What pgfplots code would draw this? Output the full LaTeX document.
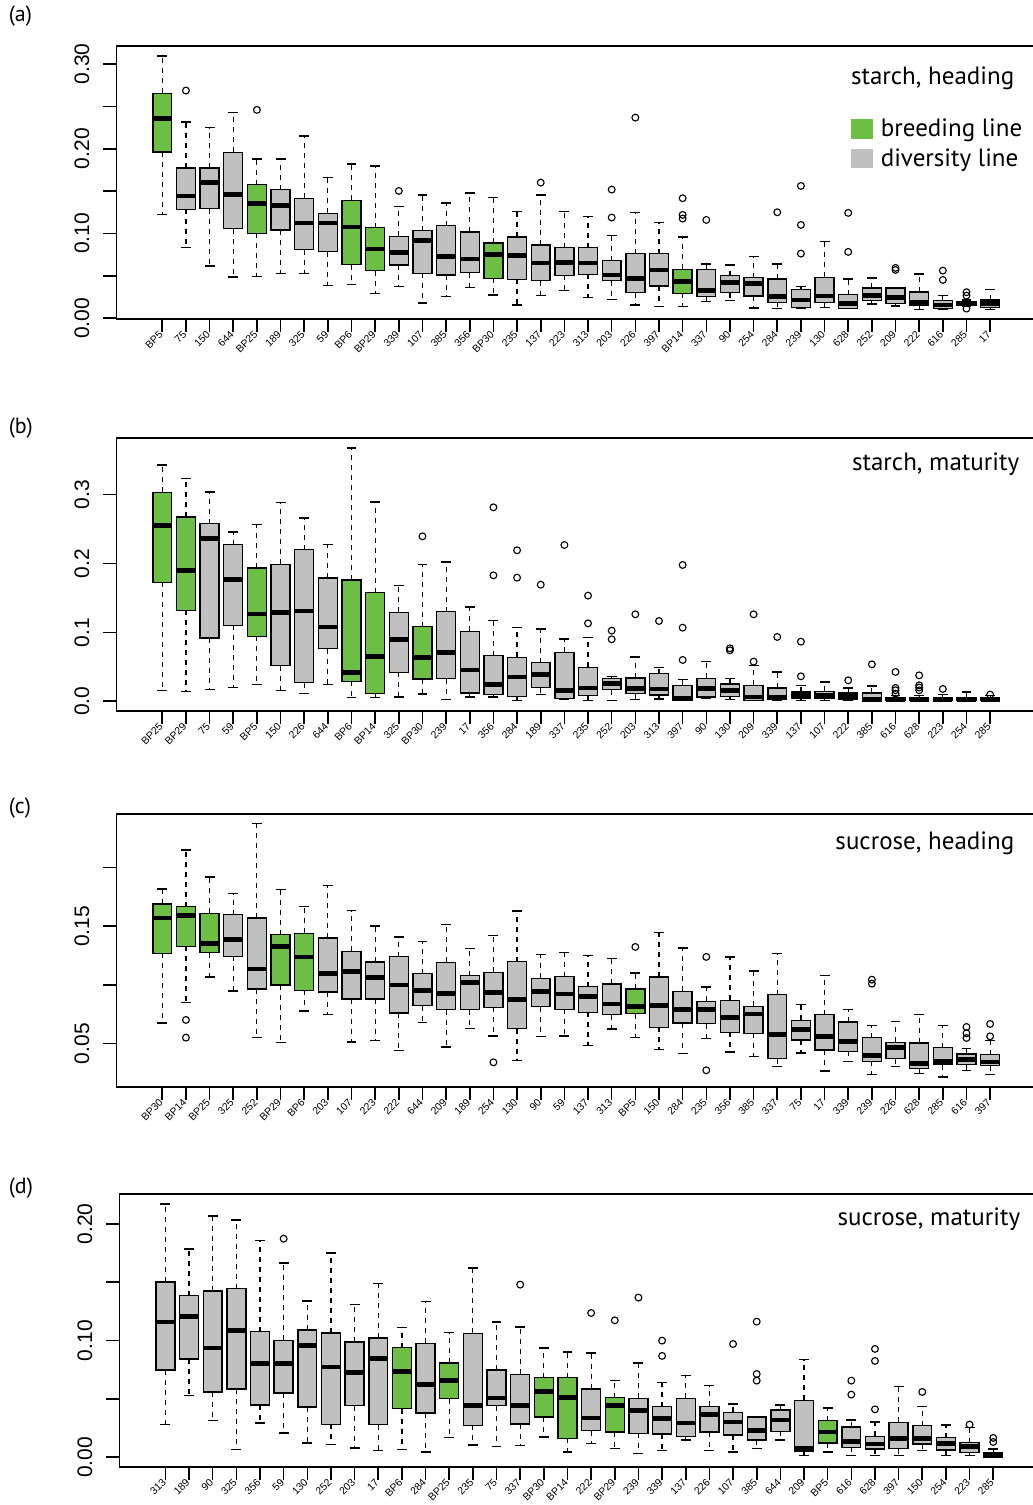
\documentclass[border=0pt]{standalone}
\usepackage{fontspec}
\setmainfont{Liberation Sans}
\newfontfamily\myr{PT Sans}
\usepackage{pgfplots}
\pgfplotsset{compat=1.18}
\usepgfplotslibrary{statistics}
\definecolor{bgr}{RGB}{109,190,69}
\definecolor{dgr}{RGB}{192,192,192}

\pgfplotsset{
  mybox/.style={
    boxplot/draw direction=y,
    boxplot/box extend=0.8,
    boxplot/whisker extend=0.42,
    boxplot/every median/.style={line width=1.15pt},
    boxplot/draw/lower whisker/.code={%
      \draw[dash pattern=on 1.25pt off 1.25pt, line width=0.3pt]
        (boxplot box cs:\pgfplotsboxplotvalue{lower quartile},0.5) --
        (boxplot box cs:\pgfplotsboxplotvalue{lower whisker},0.5);
      \draw[solid, line width=0.38pt]
        (boxplot whisker cs:\pgfplotsboxplotvalue{lower whisker},0) --
        (boxplot whisker cs:\pgfplotsboxplotvalue{lower whisker},1);
    },
    boxplot/draw/upper whisker/.code={%
      \draw[dash pattern=on 1.25pt off 1.25pt, line width=0.3pt]
        (boxplot box cs:\pgfplotsboxplotvalue{upper quartile},0.5) --
        (boxplot box cs:\pgfplotsboxplotvalue{upper whisker},0.5);
      \draw[solid, line width=0.38pt]
        (boxplot whisker cs:\pgfplotsboxplotvalue{upper whisker},0) --
        (boxplot whisker cs:\pgfplotsboxplotvalue{upper whisker},1);
    },
  },
  panel/.style={
    scale only axis, width=229.9pt, height=68.325pt,
    xmin=-0.94, xmax=37.94,
    xtick={1,...,36},
    tick align=outside, tick pos=left,
    major tick length=3.25pt,
    every tick/.style={black, line width=0.4pt},
    axis line style={line width=0.45pt},
    xticklabel style={font=\fontsize{2.6}{2.9}\selectfont, inner sep=0.4pt, xshift=0.1pt, yshift=0.3pt, rotate=45, anchor=east},
    yticklabel style={font=\fontsize{5.25}{6}\selectfont, rotate=90, anchor=south},
    /pgf/number format/assume math mode=true,
    clip=false,
    mybox,
  },
}

\newcommand{\bx}[8]{\addplot[fill=#2, draw=black, line width=0.35pt, mark=o, mark size=0.85pt, mark options={solid, line width=0.28pt, fill=none}, boxplot prepared={draw position=#1, lower whisker=#4, lower quartile=#5, median=#6, upper quartile=#7, upper whisker=#8}] coordinates {#3};}

\begin{document}
\begin{tikzpicture}
\useasboundingbox (0,0) rectangle (258pt,376.25pt);

% ---------------- (a) starch, heading
\begin{axis}[panel, at={(29.1pt,296.425pt)}, anchor=south west,
  ymin=-0.0012, ymax=0.3212,
  ytick={0,0.05,0.1,0.15,0.2,0.25,0.3},
  yticklabels={0.00,,0.10,,0.20,,0.30},
  xticklabels={BP5,75,150,644,BP25,189,325,59,BP6,BP29,339,107,385,356,BP30,235,137,223,313,203,226,397,BP14,337,90,254,284,239,130,628,252,209,222,616,285,17}]
\bx{1}{bgr}{}{0.1223}{0.1962}{0.2355}{0.2654}{0.3095}
\bx{2}{dgr}{(0,0.2686)}{0.0834}{0.1286}{0.1443}{0.1773}{0.2316}
\bx{3}{dgr}{}{0.0617}{0.1294}{0.160}{0.1773}{0.2249}
\bx{4}{dgr}{}{0.0484}{0.1058}{0.1463}{0.1958}{0.2426}
\bx{5}{bgr}{(0,0.2458)}{0.0495}{0.1003}{0.1357}{0.1577}{0.188}
\bx{6}{dgr}{}{0.0527}{0.1042}{0.1333}{0.1518}{0.188}
\bx{7}{dgr}{}{0.0527}{0.081}{0.1125}{0.1416}{0.2147}
\bx{8}{dgr}{}{0.0385}{0.0786}{0.1125}{0.1239}{0.166}
\bx{9}{bgr}{}{0.0401}{0.0633}{0.1077}{0.1392}{0.1817}
\bx{10}{bgr}{}{0.0291}{0.0562}{0.0818}{0.107}{0.1797}
\bx{11}{dgr}{(0,0.1502)}{0.0374}{0.0629}{0.0775}{0.0967}{0.1317}
\bx{12}{dgr}{}{0.0177}{0.0531}{0.0916}{0.1034}{0.1455}
\bx{13}{dgr}{}{0.0256}{0.0511}{0.0727}{0.1093}{0.1357}
\bx{14}{dgr}{}{0.0362}{0.0539}{0.07}{0.1018}{0.1479}
\bx{15}{bgr}{}{0.0275}{0.0472}{0.0755}{0.0889}{0.1424}
\bx{16}{dgr}{}{0.0157}{0.046}{0.0743}{0.0959}{0.1258}
\bx{17}{dgr}{(0,0.160)}{0.0271}{0.0444}{0.0653}{0.0865}{0.1455}
\bx{18}{dgr}{}{0.0326}{0.0507}{0.0661}{0.0834}{0.1258}
\bx{19}{dgr}{}{0.0244}{0.0519}{0.0653}{0.0834}{0.1199}
\bx{20}{dgr}{(0,0.1518) (0,0.1188)}{0.0224}{0.0444}{0.0511}{0.068}{0.0975}
\bx{21}{dgr}{(0,0.2367)}{0.0157}{0.0303}{0.0468}{0.0763}{0.1247}
\bx{22}{dgr}{}{0.0138}{0.0381}{0.057}{0.0763}{0.1129}
\bx{23}{bgr}{(0,0.1416) (0,0.1219) (0,0.1176)}{0.0138}{0.0295}{0.0436}{0.0578}{0.0956}
\bx{24}{dgr}{(0,0.116)}{0.0197}{0.0256}{0.0326}{0.0574}{0.0637}
\bx{25}{dgr}{}{0.0208}{0.0303}{0.0425}{0.0503}{0.0629}
\bx{26}{dgr}{}{0.0118}{0.0263}{0.0409}{0.048}{0.0727}
\bx{27}{dgr}{(0,0.125)}{0.0114}{0.0189}{0.0256}{0.0464}{0.0637}
\bx{28}{dgr}{(0,0.1561) (0,0.1101) (0,0.0763)}{0.0114}{0.0126}{0.0216}{0.0342}{0.0374}
\bx{29}{dgr}{}{0.0126}{0.0189}{0.0263}{0.0484}{0.0904}
\bx{30}{dgr}{(0,0.1243) (0,0.0783)}{0.0114}{0.0118}{0.0177}{0.0279}{0.046}
\bx{31}{dgr}{}{0.0169}{0.0208}{0.0271}{0.0358}{0.0472}
\bx{32}{dgr}{(0,0.0594) (0,0.057)}{0.0145}{0.0177}{0.0244}{0.0358}{0.0362}
\bx{33}{dgr}{}{0.0106}{0.0157}{0.0185}{0.0311}{0.0519}
\bx{34}{dgr}{(0,0.0562) (0,0.0452)}{0.0106}{0.0114}{0.0157}{0.0208}{0.0271}
\bx{35}{dgr}{(0,0.0307) (0,0.0267) (0,0.0114)}{0.0138}{0.0157}{0.0177}{0.0197}{0.0216}
\bx{36}{dgr}{}{0.0106}{0.013}{0.0177}{0.0216}{0.0342}
\end{axis}

% ---------------- (b) starch, maturity
\begin{axis}[panel, at={(29.1pt,198.425pt)}, anchor=south west,
  ymin=-0.0145, ymax=0.3823,
  ytick={0,0.1,0.2,0.3},
  yticklabels={0.0,0.1,0.2,0.3},
  xticklabels={BP25,BP29,75,59,BP5,150,226,644,BP6,BP14,325,BP30,239,17,356,284,189,337,235,252,203,313,397,90,130,209,339,137,107,222,385,616,628,223,254,285}]
\bx{1}{bgr}{}{0.0155}{0.1727}{0.2554}{0.3033}{0.343}
\bx{2}{bgr}{}{0.0145}{0.1321}{0.1897}{0.2675}{0.3232}
\bx{3}{dgr}{}{0.0169}{0.0919}{0.2361}{0.2579}{0.3038}
\bx{4}{dgr}{}{0.0203}{0.1103}{0.1771}{0.2274}{0.2458}
\bx{5}{bgr}{}{0.0242}{0.0943}{0.1268}{0.1935}{0.2564}
\bx{6}{dgr}{}{0.016}{0.0518}{0.1287}{0.1988}{0.2888}
\bx{7}{dgr}{}{0.0116}{0.0271}{0.1311}{0.2201}{0.2661}
\bx{8}{dgr}{}{0.0242}{0.0764}{0.1079}{0.179}{0.2279}
\bx{9}{bgr}{}{0.0053}{0.029}{0.0421}{0.1761}{0.3677}
\bx{10}{bgr}{}{0.0053}{0.0116}{0.0653}{0.1577}{0.2893}
\bx{11}{dgr}{}{0.0063}{0.0421}{0.09}{0.1292}{0.1679}
\bx{12}{bgr}{(0,0.2395)}{0.0106}{0.0324}{0.0634}{0.1084}{0.1988}
\bx{13}{dgr}{}{0.0024}{0.0329}{0.0711}{0.1301}{0.2022}
\bx{14}{dgr}{}{0.0063}{0.0121}{0.0455}{0.1016}{0.1369}
\bx{15}{dgr}{(0,0.2816) (0,0.1829)}{0.0063}{0.0102}{0.0247}{0.0663}{0.1171}
\bx{16}{dgr}{(0,0.2192) (0,0.1795)}{0.001}{0.0073}{0.0353}{0.0639}{0.1069}
\bx{17}{dgr}{(0,0.1693)}{0.0097}{0.0198}{0.0392}{0.0561}{0.105}
\bx{18}{dgr}{(0,0.2269)}{0.0034}{0.0044}{0.016}{0.0711}{0.0905}
\bx{19}{dgr}{(0,0.1534) (0,0.1132)}{0.001}{0.0087}{0.0194}{0.0493}{0.0929}
\bx{20}{dgr}{(0,0.1026) (0,0.09)}{0.001}{0.0169}{0.0256}{0.0329}{0.0358}
\bx{21}{dgr}{(0,0.1263)}{0.0024}{0.0111}{0.0184}{0.0339}{0.0643}
\bx{22}{dgr}{(0,0.1166)}{0.0034}{0.0092}{0.0179}{0.0402}{0.0489}
\bx{23}{dgr}{(0,0.1979) (0,0.1069) (0,0.06)}{0.001}{0.001}{0.0039}{0.0232}{0.0314}
\bx{24}{dgr}{}{0.0044}{0.0063}{0.0189}{0.0334}{0.0581}
\bx{25}{dgr}{(0,0.0769) (0,0.074)}{0.0024}{0.0068}{0.016}{0.0252}{0.0329}
\bx{26}{dgr}{(0,0.1263) (0,0.0576)}{0.001}{0.001}{0.0063}{0.0232}{0.0523}
\bx{27}{dgr}{(0,0.0934)}{0.001}{0.0024}{0.0063}{0.0194}{0.0426}
\bx{28}{dgr}{(0,0.0866) (0,0.0363)}{0.001}{0.0039}{0.0087}{0.0135}{0.0232}
\bx{29}{dgr}{}{0.0015}{0.0039}{0.0087}{0.0145}{0.0281}
\bx{30}{dgr}{(0,0.0305)}{0.001}{0.0024}{0.0073}{0.0121}{0.0194}
\bx{31}{dgr}{(0,0.0537)}{0}{0}{0.0024}{0.0121}{0.0223}
\bx{32}{dgr}{(0,0.0426) (0,0.0194) (0,0.016) (0,0.0111)}{0}{0.001}{0.0029}{0.0053}{0.0087}
\bx{33}{dgr}{(0,0.0377) (0,0.0232) (0,0.02) (0,0.016)}{0}{0.001}{0.0029}{0.0053}{0.0087}
\bx{34}{dgr}{(0,0.0179)}{0}{0.001}{0.0029}{0.0053}{0.0097}
\bx{35}{dgr}{}{0}{0.001}{0.0029}{0.0053}{0.0135}
\bx{36}{dgr}{(0,0.0097)}{0}{0.001}{0.0029}{0.0053}{0.0087}
\end{axis}

% ---------------- (c) sucrose, heading
\begin{axis}[panel, at={(29.1pt,104.425pt)}, anchor=south west,
  ymin=0.0128, ymax=0.2457,
  ytick={0.05,0.1,0.15,0.2},
  yticklabels={0.05,,0.15,},
  xticklabels={BP30,BP14,BP25,325,252,BP29,BP6,203,107,223,222,644,209,189,254,130,90,59,137,313,BP5,150,284,235,356,385,337,75,17,339,239,226,628,285,616,397}]
\bx{1}{bgr}{}{0.0676}{0.127}{0.1571}{0.169}{0.1818}
\bx{2}{bgr}{(0,0.0702) (0,0.0551)}{0.0852}{0.133}{0.1591}{0.1668}{0.2151}
\bx{3}{bgr}{}{0.1068}{0.1276}{0.1355}{0.1611}{0.192}
\bx{4}{dgr}{}{0.0949}{0.1244}{0.1386}{0.1599}{0.1778}
\bx{5}{dgr}{}{0.0551}{0.0966}{0.1136}{0.1571}{0.2375}
\bx{6}{bgr}{}{0.0509}{0.1}{0.133}{0.1429}{0.1815}
\bx{7}{bgr}{}{0.0776}{0.0955}{0.1239}{0.144}{0.1668}
\bx{8}{dgr}{}{0.0747}{0.094}{0.1099}{0.1401}{0.1849}
\bx{9}{dgr}{}{0.0514}{0.0881}{0.1116}{0.1287}{0.1634}
\bx{10}{dgr}{}{0.0528}{0.0881}{0.1065}{0.1196}{0.1503}
\bx{11}{dgr}{}{0.044}{0.0761}{0.1}{0.1241}{0.1409}
\bx{12}{dgr}{}{0.0682}{0.0824}{0.0955}{0.1097}{0.1369}
\bx{13}{dgr}{}{0.0472}{0.079}{0.0926}{0.1193}{0.1514}
\bx{14}{dgr}{}{0.0628}{0.079}{0.1023}{0.108}{0.131}
\bx{15}{dgr}{(0,0.0341)}{0.0565}{0.081}{0.0937}{0.1108}{0.142}
\bx{16}{dgr}{}{0.0358}{0.0628}{0.0875}{0.1199}{0.1631}
\bx{17}{dgr}{}{0.056}{0.0815}{0.0946}{0.1057}{0.1261}
\bx{18}{dgr}{}{0.0565}{0.0793}{0.0923}{0.1071}{0.1278}
\bx{19}{dgr}{}{0.0486}{0.0767}{0.0903}{0.0986}{0.125}
\bx{20}{dgr}{}{0.0625}{0.0747}{0.0838}{0.1009}{0.1227}
\bx{21}{bgr}{(0,0.1324)}{0.0554}{0.0756}{0.0818}{0.0966}{0.1102}
\bx{22}{dgr}{}{0.0449}{0.0639}{0.0824}{0.1068}{0.1446}
\bx{23}{dgr}{}{0.0415}{0.0676}{0.079}{0.0946}{0.1313}
\bx{24}{dgr}{(0,0.1239) (0,0.0273)}{0.0543}{0.067}{0.079}{0.0861}{0.0983}
\bx{25}{dgr}{}{0.0429}{0.0597}{0.0724}{0.0869}{0.1239}
\bx{26}{dgr}{}{0.0392}{0.0588}{0.0753}{0.0818}{0.1119}
\bx{27}{dgr}{}{0.0307}{0.0372}{0.0577}{0.0918}{0.1267}
\bx{28}{dgr}{}{0.0418}{0.0531}{0.0619}{0.0699}{0.0832}
\bx{29}{dgr}{}{0.0267}{0.0446}{0.0562}{0.0747}{0.1082}
\bx{30}{dgr}{}{0.0349}{0.0435}{0.052}{0.0685}{0.079}
\bx{31}{dgr}{(0,0.1045) (0,0.1011)}{0.0236}{0.0349}{0.0401}{0.0551}{0.0656}
\bx{32}{dgr}{}{0.0307}{0.0372}{0.0469}{0.0511}{0.069}
\bx{33}{dgr}{}{0.0244}{0.0287}{0.0332}{0.0506}{0.075}
\bx{34}{dgr}{}{0.0216}{0.0321}{0.0349}{0.0466}{0.0656}
\bx{35}{dgr}{(0,0.0642) (0,0.0588) (0,0.0548)}{0.0273}{0.0321}{0.0364}{0.0412}{0.0457}
\bx{36}{dgr}{(0,0.0668) (0,0.0562)}{0.0236}{0.0312}{0.0344}{0.0406}{0.0526}
\end{axis}

% ---------------- (d) sucrose, maturity
\begin{axis}[panel, at={(29.875pt,9.425pt)}, anchor=south west,
  ymin=-0.0086, ymax=0.2257,
  ytick={0,0.05,0.1,0.15,0.2},
  yticklabels={0.00,,0.10,,0.20},
  xticklabels={313,189,90,325,356,59,130,252,203,17,BP6,284,BP25,235,75,337,BP30,BP14,222,BP29,239,339,137,226,107,385,644,209,BP5,616,628,397,150,254,223,285}]
\bx{1}{dgr}{}{0.028}{0.0749}{0.116}{0.1503}{0.2171}
\bx{2}{dgr}{}{0.0529}{0.0843}{0.1209}{0.1386}{0.1786}
\bx{3}{dgr}{}{0.0317}{0.056}{0.0937}{0.1426}{0.2069}
\bx{4}{dgr}{}{0.0066}{0.0586}{0.1086}{0.1446}{0.2034}
\bx{5}{dgr}{}{0.0294}{0.0449}{0.0803}{0.1077}{0.186}
\bx{6}{dgr}{(0,0.1874)}{0.0209}{0.0551}{0.0803}{0.1003}{0.1666}
\bx{7}{dgr}{}{0.0123}{0.0431}{0.0957}{0.1091}{0.134}
\bx{8}{dgr}{}{0.0109}{0.0283}{0.0774}{0.1066}{0.1751}
\bx{9}{dgr}{}{0.008}{0.0443}{0.0729}{0.0989}{0.1309}
\bx{10}{dgr}{}{0.006}{0.028}{0.0846}{0.1023}{0.1491}
\bx{11}{bgr}{}{0.0066}{0.0417}{0.0737}{0.094}{0.1111}
\bx{12}{dgr}{}{0.0046}{0.038}{0.0623}{0.0977}{0.1334}
\bx{13}{bgr}{}{0.0171}{0.0503}{0.0657}{0.0809}{0.1069}
\bx{14}{dgr}{}{0.0103}{0.0274}{0.0446}{0.1063}{0.1623}
\bx{15}{dgr}{}{0.0094}{0.0443}{0.0509}{0.0749}{0.116}
\bx{16}{dgr}{(0,0.148)}{0.01}{0.0286}{0.0446}{0.0711}{0.1117}
\bx{17}{bgr}{}{0.0174}{0.0346}{0.0563}{0.0683}{0.0937}
\bx{18}{bgr}{}{0.0043}{0.0163}{0.0514}{0.0683}{0.0903}
\bx{19}{dgr}{(0,0.1237)}{0.0117}{0.0229}{0.0337}{0.0586}{0.0894}
\bx{20}{bgr}{(0,0.1174)}{0.0077}{0.0217}{0.0443}{0.0511}{0.0657}
\bx{21}{dgr}{(0,0.1369)}{0.0031}{0.0206}{0.04}{0.0506}{0.0806}
\bx{22}{dgr}{(0,0.1) (0,0.0869)}{0.006}{0.02}{0.0331}{0.0434}{0.0643}
\bx{23}{dgr}{}{0.0149}{0.018}{0.0294}{0.0506}{0.07}
\bx{24}{dgr}{}{0.0057}{0.0217}{0.0366}{0.0437}{0.0614}
\bx{25}{dgr}{(0,0.0971)}{0.0043}{0.0191}{0.0303}{0.0386}{0.0457}
\bx{26}{dgr}{(0,0.1163) (0,0.0714) (0,0.0657)}{0.0074}{0.0149}{0.0231}{0.0346}{0.0346}
\bx{27}{dgr}{}{0.0149}{0.0223}{0.032}{0.0406}{0.0449}
\bx{28}{dgr}{}{0.0017}{0.0051}{0.0074}{0.0489}{0.0837}
\bx{29}{bgr}{}{0.0043}{0.0123}{0.0217}{0.0314}{0.0423}
\bx{30}{dgr}{(0,0.0657) (0,0.0537)}{0.0014}{0.0086}{0.0137}{0.026}{0.032}
\bx{31}{dgr}{(0,0.0929) (0,0.0826) (0,0.0411)}{0.0014}{0.0071}{0.0114}{0.018}{0.0303}
\bx{32}{dgr}{}{0.0014}{0.0074}{0.016}{0.03}{0.0606}
\bx{33}{dgr}{(0,0.056)}{0.0057}{0.0114}{0.016}{0.0271}{0.0434}
\bx{34}{dgr}{}{0.0014}{0.0063}{0.0117}{0.0169}{0.0277}
\bx{35}{dgr}{(0,0.028)}{0.0014}{0.004}{0.0094}{0.0126}{0.0257}
\bx{36}{dgr}{(0,0.0166) (0,0.0131)}{0}{0}{0.0017}{0.0037}{0.0071}
\end{axis}

% ---------------- panel letters, titles, legend
\begin{scope}[every node/.style={inner sep=0pt}]
\node[anchor=base west, font=\myr\fontsize{5.5}{6.5}\selectfont] at (2pt,370.75pt) {(a)};
\node[anchor=base west, font=\myr\fontsize{5.5}{6.5}\selectfont] at (2pt,267.75pt) {(b)};
\node[anchor=base west, font=\myr\fontsize{5.5}{6.5}\selectfont] at (2pt,172.75pt) {(c)};
\node[anchor=base west, font=\myr\fontsize{5.5}{6.5}\selectfont] at (2pt,77.75pt) {(d)};
\node[anchor=base east, font=\myr\fontsize{6.25}{7}\selectfont] at (253.75pt,355pt) {starch, heading};
\node[anchor=base east, font=\myr\fontsize{6.25}{7}\selectfont] at (255pt,258.5pt) {starch, maturity};
\node[anchor=base east, font=\myr\fontsize{6.25}{7}\selectfont] at (253.75pt,163.75pt) {sucrose, heading};
\node[anchor=base east, font=\myr\fontsize{6.25}{7}\selectfont] at (255.25pt,69.75pt) {sucrose, maturity};
\fill[bgr] (212.75pt,341.5pt) rectangle (218.25pt,346.5pt);
\fill[dgr] (212.75pt,334.25pt) rectangle (218.25pt,339pt);
\node[anchor=base west, font=\myr\fontsize{6.25}{7}\selectfont] at (220pt,342pt) {breeding line};
\node[anchor=base west, font=\myr\fontsize{6.25}{7}\selectfont] at (220pt,334.5pt) {diversity line};
\end{scope}
\end{tikzpicture}
\end{document}
